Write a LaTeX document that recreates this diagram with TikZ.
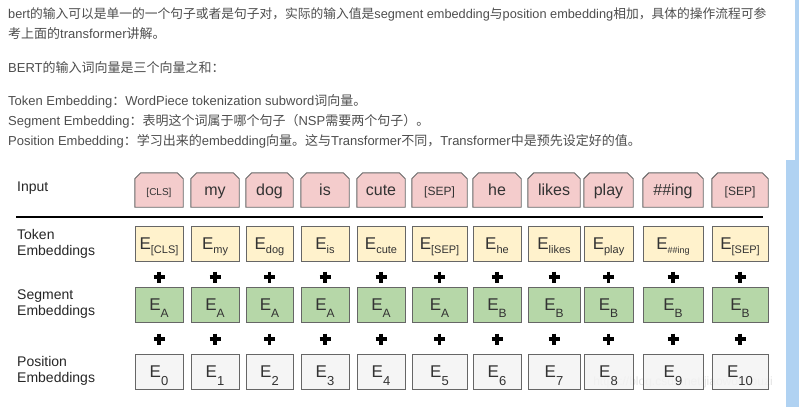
\documentclass[tikz,border=0pt]{standalone}
\usepackage{fontspec}
\setmainfont{Liberation Sans}
\newfontfamily\cjk{Noto Sans CJK SC}
\usetikzlibrary{backgrounds}
\definecolor{bodytext}{HTML}{4D4D4D}
\definecolor{inpink}{HTML}{F4CCCC}
\definecolor{tokyellow}{HTML}{FFF2CC}
\definecolor{seggreen}{HTML}{B6D7A8}
\definecolor{posgray}{HTML}{F3F3F3}
\definecolor{boxline}{HTML}{666666}
\definecolor{boxtext}{HTML}{333333}
\definecolor{edgeblue}{HTML}{B0D2F2}
\newcommand\zh[1]{{\cjk #1}}
\newcommand\subsc[3]{\raisebox{-#1pt}{\fontsize{#2}{#2}\selectfont #3}}
\tikzset{
  para/.style={inner sep=0pt, text=bodytext, font=\fontsize{13}{13}\selectfont},
  lbl/.style={inner sep=0pt, align=left, text=black!85, font=\fontsize{14}{16}\selectfont},
  boxbase/.style={inner sep=0pt, text=boxtext, text height=11pt, text depth=0pt, minimum height=35pt},
  inbox/.style={boxbase, minimum height=34pt, font=\fontsize{16}{16}\selectfont},
  ebox/.style={boxbase, draw=boxline, line width=0.9pt, font=\fontsize{17}{17}\selectfont},
  plussign/.style={line width=3.6pt, black},
}
\begin{document}
\begin{tikzpicture}[x=1pt,y=-1pt]
\useasboundingbox (0,0) rectangle (799,407);
\fill[edgeblue] (795,0) rectangle (799,160);
\fill[edgeblue] (786,160) rectangle (799,407);

% paragraph text
\node[para, anchor=base west, font=\fontsize{12.75}{13}\selectfont] (t1) at (8,18) {bert\zh{的输入可以是单一的一个句子或者是句子对，实际的输入值是}segment embedding\zh{与}position embedding\zh{相加，具体的操作流程可参}};
\node[para, anchor=base west] (t2) at (8,38) {\zh{考上面的}transformer\zh{讲解。}};
\node[para, anchor=base west] (t3) at (8,72) {BERT\zh{的输入词向量是三个向量之和：}};
\node[para, anchor=base west] (t4) at (8,105) {Token Embedding\zh{：}WordPiece tokenization subword\zh{词向量。}};
\node[para, anchor=base west] (t5) at (8,125) {Segment Embedding\zh{：表明这个词属于哪个句子（}NSP\zh{需要两个句子）。}};
\node[para, anchor=base west] (t6) at (8,145) {Position Embedding\zh{：学习出来的}embedding\zh{向量。这与}Transformer\zh{不同，}Transformer\zh{中是预先设定好的值。}};

% row labels
\node[lbl, anchor=west] (lin) at (17,188) {Input};
\node[lbl, anchor=west] (ltok) at (17,244) {Token\\Embeddings};
\node[lbl, anchor=west] (lseg) at (17,304.5) {Segment\\Embeddings};
\node[lbl, anchor=west] (lpos) at (17,371) {Position\\Embeddings};

% separator rule
\coordinate (ruleL) at (16,217);
\coordinate (ruleR) at (763,217);
\draw[line width=2.5pt] (ruleL) -- (ruleR);

% watermark (behind the box texts)
\node[inner sep=0pt, text=gray!22, font=\fontsize{12}{12}\selectfont] (wm) at (683,382) {https://blog.csdn.net/jiaowoshouzi};

\foreach \i/\cx/\w/\intext/\tsub/\ssub/\psub in {
  1/159/48/{\fontsize{10}{10}\selectfont[CLS]}/{[CLS]}/A/0,
  2/215/48/my/my/A/1,
  3/269.5/47/dog/dog/A/2,
  4/325/48/is/is/A/3,
  5/381/48/cute/cute/A/4,
  6/439.5/55/{\fontsize{12}{12}\selectfont[SEP]}/{[SEP]}/A/5,
  7/497/48/he/he/B/6,
  8/554/52/likes/likes/B/7,
  9/608.5/49/play/play/B/8,
  10/673/60/{\#\#ing}/{\fontsize{9}{9}\selectfont\#\#ing}/B/9,
  11/740/56/{\fontsize{12}{12}\selectfont[SEP]}/{[SEP]}/B/10}{
  \node[inbox, minimum width=\w pt] (in\i) at (\cx,190) {\intext};
  \begin{scope}[on background layer]
    \draw[fill=inpink, draw=boxline, line width=0.9pt]
      ([yshift=-6pt]in\i.north west) -- ([xshift=6pt]in\i.north west)
      -- ([xshift=-6pt]in\i.north east) -- ([yshift=-6pt]in\i.north east)
      -- (in\i.south east) -- (in\i.south west) -- cycle;
  \end{scope}
  \node[ebox, fill=tokyellow, minimum width=\w pt] (tok\i) at (\cx,243.5) {E\subsc{4}{11}{\tsub}};
  \node[ebox, fill=seggreen, minimum width=\w pt] (seg\i) at (\cx,304.5) {E\subsc{7}{12}{\ssub}};
  \node[ebox, fill=posgray, fill opacity=0.85, text opacity=1, minimum width=\w pt] (pos\i) at (\cx,371.5) {E\subsc{8}{13}{\psub}};
  \draw[plussign] (\cx-5.5,277) -- (\cx+5.5,277) (\cx,271.5) -- (\cx,282.5);
  \draw[plussign] (\cx-5.5,339) -- (\cx+5.5,339) (\cx,333.5) -- (\cx,344.5);
}
\end{tikzpicture}
\end{document}
